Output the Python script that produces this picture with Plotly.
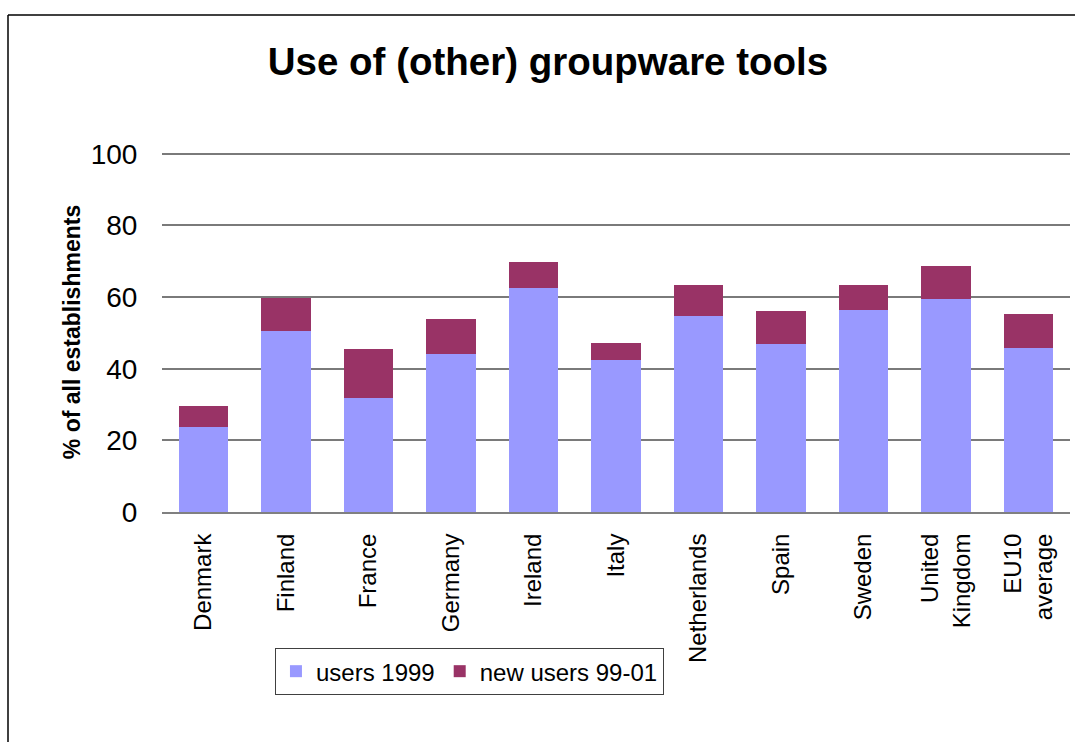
import plotly.graph_objects as go

# Survey results: share of establishments using (other) groupware tools
countries = ["Denmark", "Finland", "France", "Germany", "Ireland", "Italy",
             "Netherlands", "Spain", "Sweden", "United<br>Kingdom", "EU10<br>average"]
users_1999 = [23.7, 50.6, 31.8, 44.1, 62.6, 42.5, 54.7, 46.9, 56.4, 59.5, 45.8]
new_users_99_01 = [5.9, 9.2, 13.7, 9.8, 7.2, 4.7, 8.7, 9.2, 7.0, 9.2, 9.5]
y_ticks = [0, 20, 40, 60, 80, 100]

FONT = "Liberation Sans, Arial, sans-serif"

fig = go.Figure()
fig.add_trace(go.Bar(name="users 1999", x=countries, y=users_1999,
                     marker=dict(color="#9999FF", line=dict(width=0))))
fig.add_trace(go.Bar(name="new users 99-01", x=countries, y=new_users_99_01,
                     marker=dict(color="#993366", line=dict(width=0))))

# outer frame of the chart area (top and left edges)
fig.add_shape(type="line", xref="paper", yref="paper",
              x0=-0.1696, x1=1.02, y0=1.3806, y1=1.3806,
              line=dict(color="black", width=1.5))
fig.add_shape(type="line", xref="paper", yref="paper",
              x0=-0.1696, x1=-0.1696, y0=-0.7, y1=1.3806,
              line=dict(color="black", width=1.5))

fig.update_layout(
    width=1075, height=742,
    barmode="stack", bargap=0.4,
    paper_bgcolor="white", plot_bgcolor="white",
    margin=dict(l=162, r=5, t=152, b=230),
    font=dict(family=FONT, color="black"),
    title=dict(text="<b>Use of (other) groupware tools</b>",
               x=548 / 1075, xanchor="center", xref="container",
               y=1 - 62 / 742, yanchor="middle", yref="container",
               font=dict(size=38.5, family=FONT, color="black")),
    legend=dict(orientation="h", x=0.1244, y=-0.378, xanchor="left", yanchor="top",
                bordercolor="#404040", borderwidth=1,
                font=dict(size=24, family=FONT), traceorder="normal",
                itemsizing="constant"),
    xaxis=dict(showgrid=False, showline=True, linecolor="#808080", linewidth=2,
               tickangle=-90, tickfont=dict(size=24, family=FONT),
               ticks="outside", ticklen=10, tickcolor="rgba(0,0,0,0)"),
    yaxis=dict(range=[0, 100.5], tickvals=y_ticks, showgrid=True,
               gridcolor="#7a7a7a", gridwidth=1.5, zeroline=False, showline=False,
               tickfont=dict(size=28, family=FONT),
               ticks="outside", ticklen=18, tickcolor="rgba(0,0,0,0)",
               title=dict(text="<b>% of all establishments</b>", standoff=3,
                          font=dict(size=23, family=FONT))),
)

fig.write_html("out.html")
